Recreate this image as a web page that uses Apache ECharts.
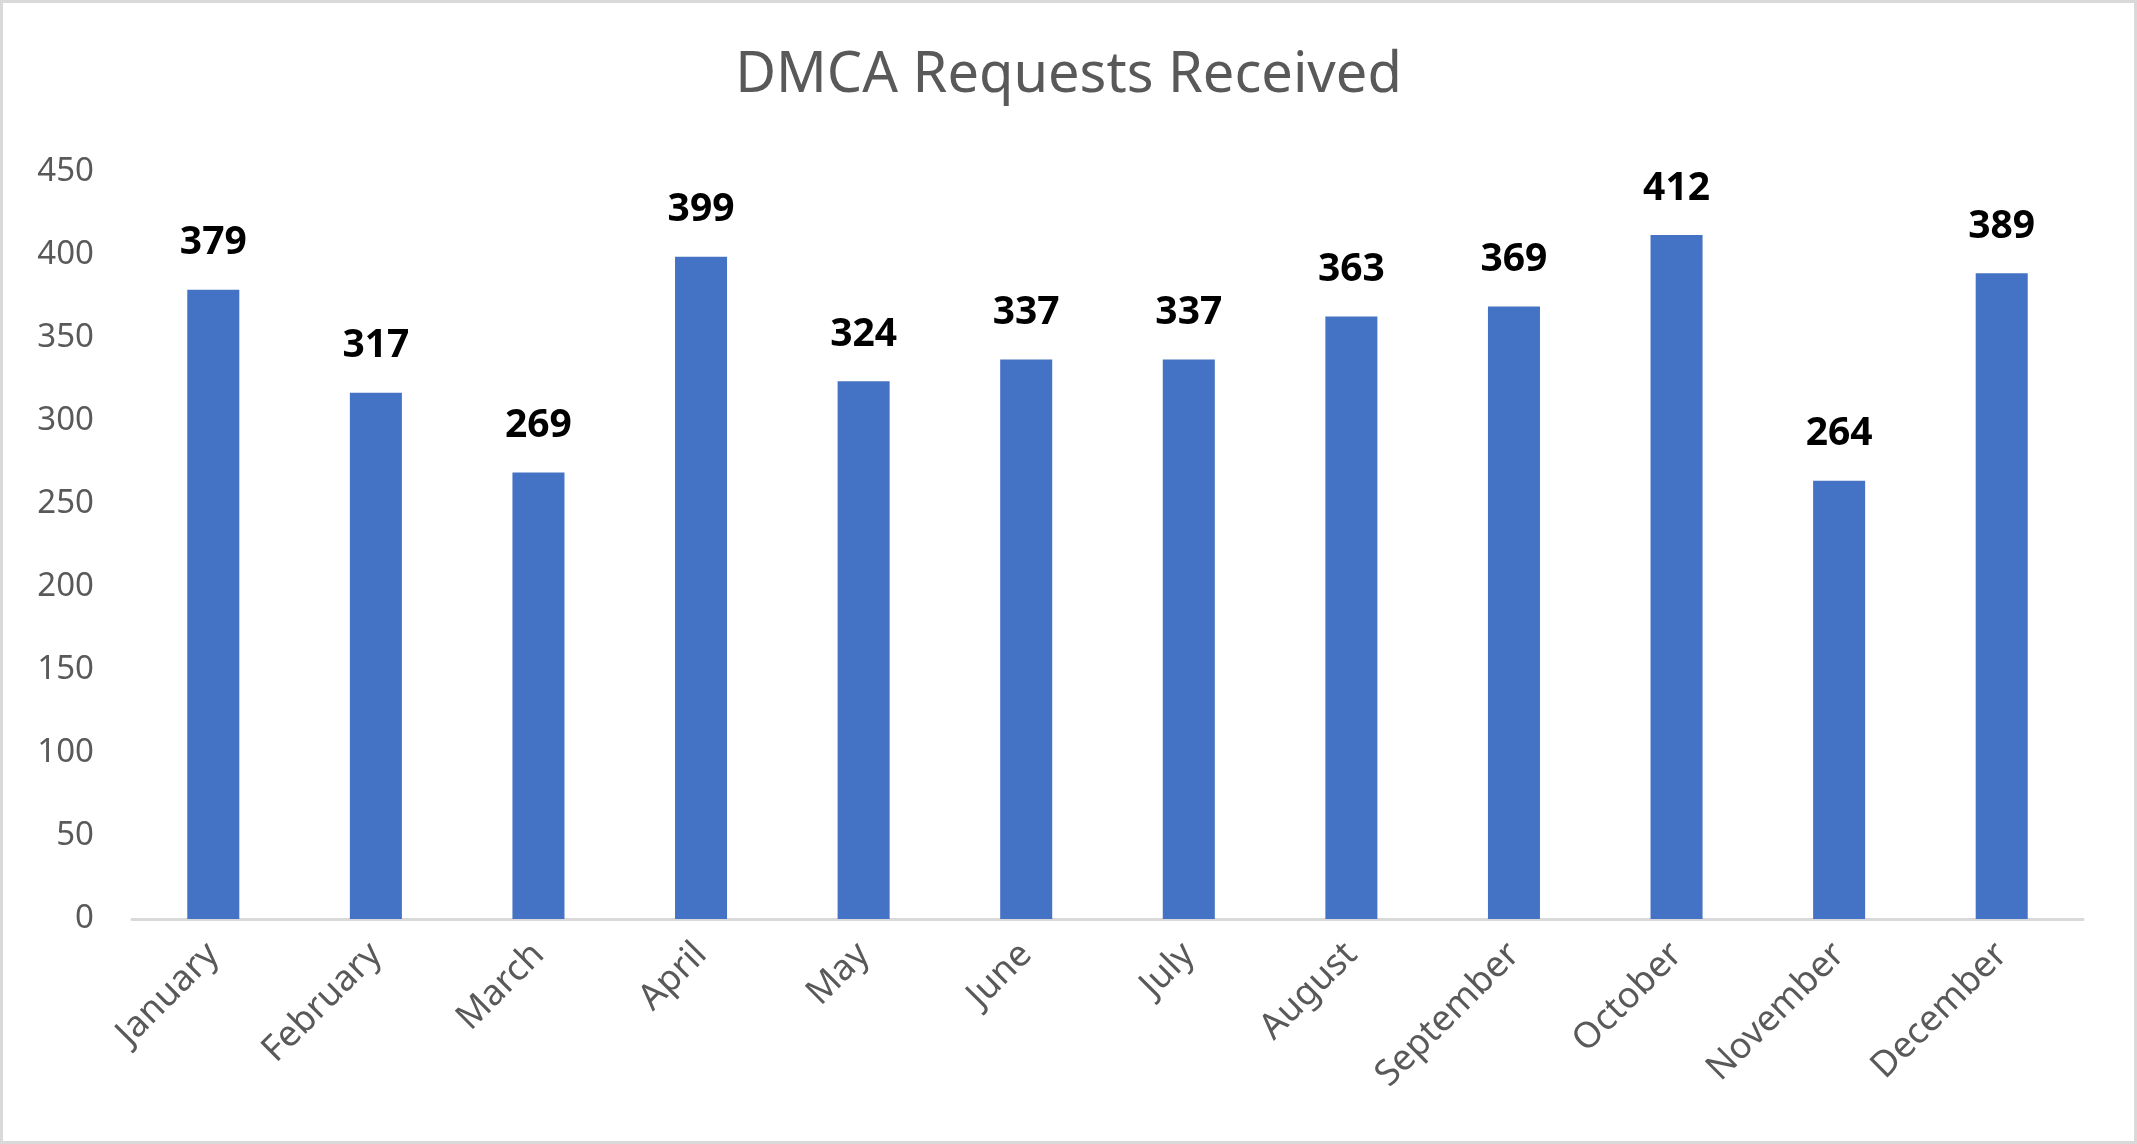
<!DOCTYPE html>
<html><head><meta charset="utf-8">
<script src="https://cdn.jsdelivr.net/npm/echarts@6/dist/echarts.min.js"></script>
<style>
html,body{margin:0;padding:0;background:#fff;}
#c{width:2137px;height:1144px;box-sizing:border-box;border:3px solid #d9d9d9;}
</style></head>
<body><div id="c"></div>
<script>
const categories = ["January","February","March","April","May","June","July","August","September","October","November","December"];
const requests = [379,317,269,399,324,337,337,363,369,412,264,389];
const yTicks = {min:0, max:450, interval:50};
const titleText = "DMCA Requests Received";

const chart = echarts.init(document.getElementById('c'), null, {renderer:'canvas'});
chart.setOption({
  animation:false,
  backgroundColor:'#fff',
  title:{text:titleText,left:'center',top:40,textStyle:{fontFamily:'Noto Sans',fontWeight:'normal',fontSize:56,color:'#595959'}},
  grid:{left:129,right:51,top:169,bottom:222,containLabel:false},
  xAxis:{type:'category',data:categories,
    axisLine:{lineStyle:{color:'#d9d9d9',width:3}},
    axisTick:{show:false},
    axisLabel:{rotate:45,interval:0,margin:30,fontFamily:'Noto Sans',fontSize:36,color:'#595959'}},
  yAxis:{type:'value',min:yTicks.min,max:yTicks.max,interval:yTicks.interval,
    axisLine:{show:false},axisTick:{show:false},splitLine:{show:false},
    axisLabel:{margin:38,fontFamily:'Noto Sans',fontSize:33,color:'#595959'}},
  series:[{type:'bar',data:requests,barWidth:'32%',itemStyle:{color:'#4472C4'},
    label:{show:true,position:'top',distance:27,fontFamily:'Noto Sans',fontWeight:'bold',fontSize:39,color:'#000'}}]
});
</script></body></html>
